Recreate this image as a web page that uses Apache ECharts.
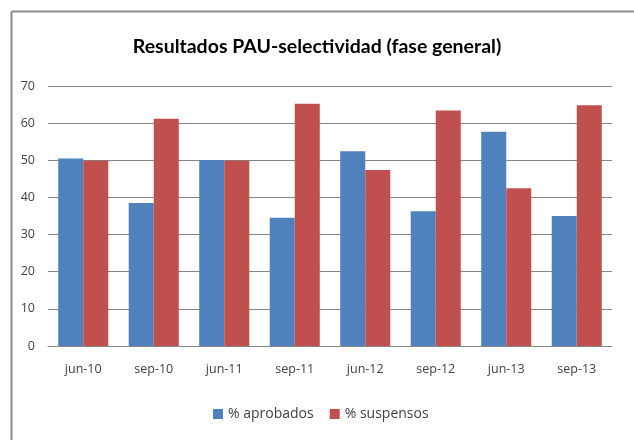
<!DOCTYPE html>
<html>
<head>
<meta charset="utf-8">
<script src="https://cdn.jsdelivr.net/npm/echarts@6/dist/echarts.min.js"></script>
<style>
  html, body { margin: 0; padding: 0; background: #fff; }
  #main { width: 634px; height: 440px; }
</style>
</head>
<body>
<div id="main"></div>
<script>
// datos
var categorias = ['jun-10', 'sep-10', 'jun-11', 'sep-11', 'jun-12', 'sep-12', 'jun-13', 'sep-13']
var aprobados = [50.5, 38.5, 50.1, 34.5, 52.4, 36.3, 57.7, 35.0]
var suspensos = [49.9, 61.2, 49.9, 65.2, 47.4, 63.4, 42.5, 64.8]
var nombres = ['% aprobados', '% suspensos']

var colorSet = {
  aprobados: '#4F81BD',
  suspensos: '#C0504D',
  grid: '#868686',
  text: '#404040',
}

var chart = echarts.init(document.getElementById('main'), null, { renderer: 'canvas' })

var option = {
  backgroundColor: '#fff',
  animation: false,
  title: {
    text: 'Resultados PAU-selectividad (fase general)',
    left: 'center',
    top: 32,
    textStyle: {
      fontFamily: 'Lato',
      fontSize: 19.5,
      fontWeight: 'bold',
      color: '#000',
    },
  },
  // marco del grafico
  graphic: [
    {
      type: 'line',
      shape: { x1: 11.5, y1: 11.5, x2: 634, y2: 11.5 },
      style: { stroke: '#8c8c8c', lineWidth: 2 },
    },
    {
      type: 'line',
      shape: { x1: 11.5, y1: 11.5, x2: 11.5, y2: 440 },
      style: { stroke: '#8c8c8c', lineWidth: 2 },
    },
  ],
  legend: {
    data: nombres,
    bottom: 14,
    left: 208,
    itemWidth: 10,
    itemHeight: 10,
    itemGap: 16,
    icon: 'rect',
    textStyle: {
      fontFamily: 'Open Sans',
      fontSize: 14,
      color: colorSet.text,
    },
  },
  grid: {
    left: 48,
    right: 22,
    top: 86,
    bottom: 94,
    containLabel: false,
  },
  xAxis: {
    type: 'category',
    data: categorias,
    axisLine: { show: true, lineStyle: { color: colorSet.grid, width: 1 } },
    axisTick: { show: false },
    axisLabel: {
      margin: 17,
      fontFamily: 'Open Sans',
      fontSize: 12.5,
      color: colorSet.text,
    },
  },
  yAxis: {
    type: 'value',
    min: 0,
    max: 70,
    interval: 10,
    axisLine: { show: false },
    axisTick: { show: false },
    splitLine: { lineStyle: { color: colorSet.grid, width: 1 } },
    axisLabel: {
      margin: 13,
      fontFamily: 'Open Sans',
      fontSize: 12.5,
      color: colorSet.text,
    },
  },
  series: [
    {
      name: nombres[0],
      type: 'bar',
      data: aprobados,
      barGap: '0%',
      barCategoryGap: '29%',
      itemStyle: { color: colorSet.aprobados },
    },
    {
      name: nombres[1],
      type: 'bar',
      data: suspensos,
      barGap: '0%',
      barCategoryGap: '29%',
      itemStyle: { color: colorSet.suspensos },
    },
  ],
}
chart.setOption(option)
</script>
</body>
</html>
